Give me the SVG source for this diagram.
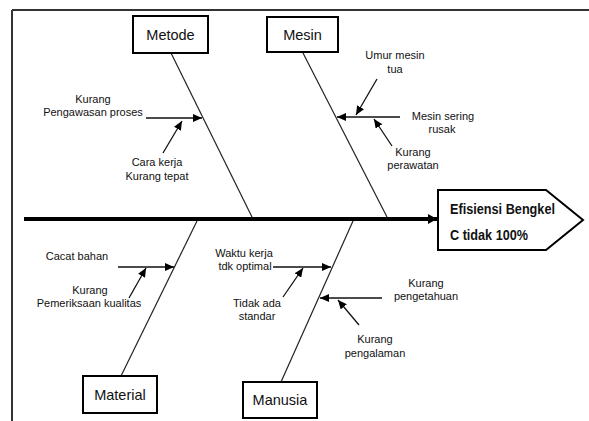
<svg xmlns="http://www.w3.org/2000/svg" width="589" height="421" viewBox="0 0 589 421">
<defs>
<marker id="ah" markerUnits="userSpaceOnUse" markerWidth="10" markerHeight="8" refX="9" refY="4" orient="auto">
<path d="M0,0 L9,4 L0,8 Z" fill="#000"/>
</marker>
<marker id="ahs" markerUnits="userSpaceOnUse" markerWidth="10" markerHeight="10" refX="9" refY="5" orient="auto">
<path d="M0,0 L9,5 L0,10 Z" fill="#000"/>
</marker>
<style>
.box{fill:#fff;stroke:#000;stroke-width:2}
.bone{stroke:#222;stroke-width:1.2;fill:none}
.br{stroke:#111;stroke-width:1.3;fill:none;marker-end:url(#ah)}
.t{font-family:"Liberation Sans",Arial,sans-serif;font-size:11px;fill:#111;text-anchor:middle}
.bt{font-family:"Liberation Sans",Arial,sans-serif;font-size:14.5px;fill:#111;text-anchor:middle}
.ht{font-family:"Liberation Sans",Arial,sans-serif;font-size:14px;font-weight:bold;fill:#111}
</style>
</defs>
<rect width="589" height="421" fill="#fff"/>
<g id="frame">
<line x1="12" y1="10" x2="589" y2="10" stroke="#333" stroke-width="2"/>
<line x1="12" y1="10" x2="12" y2="421" stroke="#333" stroke-width="2"/>
</g>
<g id="connectors">
<line x1="24" y1="219" x2="437" y2="219" stroke="#000" stroke-width="4" marker-end="url(#ahs)"/>
<line class="bone" x1="171" y1="53" x2="252" y2="217"/>
<line class="bone" x1="303" y1="53" x2="387" y2="217"/>
<line class="bone" x1="197" y1="221" x2="121" y2="376"/>
<line class="bone" x1="353" y1="221" x2="281" y2="382"/>
<line class="br" x1="146" y1="118" x2="202" y2="118"/>
<line class="br" x1="163" y1="153" x2="182" y2="121"/>
<line class="br" x1="400" y1="117" x2="337" y2="117"/>
<line class="br" x1="377" y1="79" x2="356" y2="115"/>
<line class="br" x1="392" y1="146" x2="374" y2="119"/>
<line class="br" x1="118" y1="267" x2="174" y2="267"/>
<line class="br" x1="129" y1="298" x2="146" y2="268"/>
<line class="br" x1="273" y1="267" x2="331" y2="267"/>
<line class="br" x1="283" y1="297" x2="303" y2="268"/>
<line class="br" x1="382" y1="298" x2="320" y2="298"/>
<line class="br" x1="359" y1="325" x2="338" y2="300"/>
</g>
<g id="metode">
<rect class="box" x="133" y="16" width="75" height="37"/>
<text class="bt" x="170.5" y="40">Metode</text>
</g>
<g id="mesin">
<rect class="box" x="267" y="17" width="71" height="35"/>
<text class="bt" x="302.5" y="40">Mesin</text>
</g>
<g id="material">
<rect class="box" x="83" y="376" width="74" height="37"/>
<text class="bt" x="120" y="400">Material</text>
</g>
<g id="manusia">
<rect class="box" x="243" y="382" width="74" height="36"/>
<text class="bt" x="280" y="405">Manusia</text>
</g>
<g id="effect">
<path d="M438,190 L546,190 L583,220 L546,250 L438,250 Z" fill="#fff" stroke="#000" stroke-width="2"/>
<text class="ht" x="450" y="214" textLength="105" lengthAdjust="spacingAndGlyphs">Efisiensi Bengkel</text>
<text class="ht" x="450" y="240" textLength="78" lengthAdjust="spacingAndGlyphs">C tidak 100%</text>
</g>
<g id="causes">
<text class="t" x="93" y="103">Kurang</text>
<text class="t" x="93" y="116">Pengawasan proses</text>
<text class="t" x="157" y="166">Cara kerja</text>
<text class="t" x="157" y="180">Kurang tepat</text>
<text class="t" x="395" y="59">Umur mesin</text>
<text class="t" x="395" y="73">tua</text>
<text class="t" x="443" y="120">Mesin sering</text>
<text class="t" x="442" y="133">rusak</text>
<text class="t" x="413" y="156">Kurang</text>
<text class="t" x="413" y="169">perawatan</text>
<text class="t" x="77" y="260">Cacat bahan</text>
<text class="t" x="90" y="294">Kurang</text>
<text class="t" x="89" y="307">Pemeriksaan kualitas</text>
<text class="t" x="244" y="257">Waktu kerja</text>
<text class="t" x="245" y="270">tdk optimal</text>
<text class="t" x="257" y="307">Tidak ada</text>
<text class="t" x="257" y="320">standar</text>
<text class="t" x="426" y="287">Kurang</text>
<text class="t" x="426" y="300">pengetahuan</text>
<text class="t" x="375" y="343">Kurang</text>
<text class="t" x="375" y="357">pengalaman</text>
</g>
</svg>
